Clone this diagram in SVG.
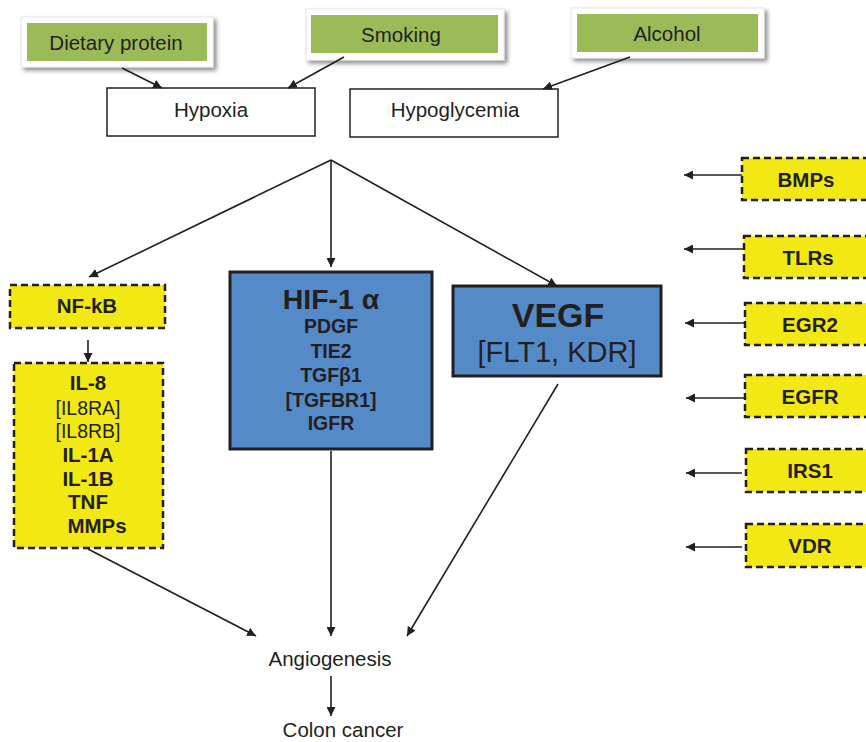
<svg xmlns="http://www.w3.org/2000/svg" width="866" height="742" viewBox="0 0 866 742">
<style>
text{font-family:"Liberation Sans",Arial,sans-serif;fill:#231f20;text-anchor:middle}
.frame{fill:#fff;stroke:#e6e6e6;stroke-width:1}
.green{fill:#9bbb59}
.plain{fill:#fff;stroke:#231f20;stroke-width:1.5}
.dash{fill:#f2e914;stroke:#231f20;stroke-width:2.5;stroke-dasharray:7,4}
.blue{fill:#558ac8;stroke:#231f20;stroke-width:3}
.ln{stroke:#231f20;stroke-width:1.6;fill:none;marker-end:url(#ah)}
.g{font-size:20.5px}
.t{font-size:20.5px}
.b{font-weight:bold}
.y{font-size:20.5px;font-weight:bold}
</style>
<defs>
<marker id="ah" viewBox="0 0 10 10" refX="10" refY="5" markerWidth="9" markerHeight="9" markerUnits="userSpaceOnUse" orient="auto">
<path d="M0,0 L10,5 L0,10 z" fill="#231f20"/>
</marker>
<filter id="sh" x="-10%" y="-20%" width="130%" height="160%">
<feDropShadow dx="3" dy="3" stdDeviation="2" flood-color="#000" flood-opacity="0.45"/>
</filter>
</defs>
<rect width="866" height="742" fill="#fff"/>
<g id="dietary"><rect class="frame" x="21" y="17" width="192" height="50" filter="url(#sh)"/><rect class="green" x="27" y="23" width="180" height="38"/><text class="g" x="116" y="50">Dietary protein</text></g>
<g id="smoking"><rect class="frame" x="306" y="9" width="198" height="51" filter="url(#sh)"/><rect class="green" x="311" y="15" width="187" height="38"/><text class="g" x="401" y="42">Smoking</text></g>
<g id="alcohol"><rect class="frame" x="571" y="8" width="193" height="50" filter="url(#sh)"/><rect class="green" x="577" y="14" width="181" height="38"/><text class="g" x="667" y="41">Alcohol</text></g>
<g id="hypoxia"><rect class="plain" x="107" y="88" width="208" height="48"/><text class="t" x="211" y="117">Hypoxia</text></g>
<g id="hypoglycemia"><rect class="plain" x="350" y="89" width="208" height="48"/><text class="t" x="455" y="117">Hypoglycemia</text></g>
<g id="nfkb"><rect class="dash" x="10" y="285" width="155" height="43"/><text class="y" x="87" y="313">NF-kB</text></g>
<g id="il"><rect class="dash" x="14" y="363" width="149" height="185"/>
<text x="88" y="390" class="y">IL-8</text>
<text x="88" y="415" font-size="19.5">[IL8RA]</text>
<text x="88" y="438" font-size="19.5">[IL8RB]</text>
<text x="88" y="462" class="y">IL-1A</text>
<text x="88" y="486" class="y">IL-1B</text>
<text x="88" y="509" class="y">TNF</text>
<text x="97" y="533" class="y">MMPs</text></g>
<g id="hif"><rect class="blue" x="230" y="272" width="202" height="177"/>
<text x="331" y="309" font-size="28.5" class="b">HIF-1 α</text>
<text x="331" y="333" font-size="19.5" class="b">PDGF</text>
<text x="331" y="358" font-size="19.5" class="b">TIE2</text>
<text x="331" y="382" font-size="19.5" class="b">TGFβ1</text>
<text x="331" y="407" font-size="19.5" class="b">[TGFBR1]</text>
<text x="331" y="430" font-size="19.5" class="b">IGFR</text></g>
<g id="vegf"><rect class="blue" x="453" y="286" width="208" height="90"/>
<text x="558" y="327" font-size="34" class="b">VEGF</text>
<text x="557" y="362" font-size="29">[FLT1, KDR]</text></g>
<g id="angiogenesis"><text class="t" x="330" y="666">Angiogenesis</text></g>
<g id="colon"><text class="t" x="343" y="737">Colon cancer</text></g>
<g id="bmps"><rect class="dash" x="742" y="158" width="130" height="42"/><text class="y" x="806" y="187">BMPs</text></g>
<g id="tlrs"><rect class="dash" x="744" y="236" width="130" height="42"/><text class="y" x="808" y="265">TLRs</text></g>
<g id="egr2"><rect class="dash" x="745" y="303" width="130" height="42"/><text class="y" x="810" y="332">EGR2</text></g>
<g id="egfr"><rect class="dash" x="745" y="375" width="130" height="42"/><text class="y" x="810" y="404">EGFR</text></g>
<g id="irs1"><rect class="dash" x="746" y="449" width="130" height="43"/><text class="y" x="810" y="478">IRS1</text></g>
<g id="vdr"><rect class="dash" x="746" y="524" width="130" height="43"/><text class="y" x="810" y="553">VDR</text></g>
<g id="connectors">
<line class="ln" x1="122" y1="68" x2="162" y2="88"/>
<line class="ln" x1="344" y1="57" x2="288" y2="88"/>
<line class="ln" x1="630" y1="57" x2="543" y2="89"/>
<line class="ln" x1="331" y1="160" x2="89" y2="277"/>
<line class="ln" x1="331" y1="160" x2="331" y2="267"/>
<line class="ln" x1="331" y1="160" x2="557" y2="286"/>
<line class="ln" x1="88" y1="340" x2="88" y2="362"/>
<line class="ln" x1="88" y1="549" x2="256" y2="636"/>
<line class="ln" x1="331" y1="451" x2="331" y2="636"/>
<line class="ln" x1="558" y1="384" x2="407" y2="636"/>
<line class="ln" x1="331" y1="676" x2="331" y2="716"/>
<line class="ln" x1="742" y1="175" x2="684" y2="175"/>
<line class="ln" x1="744" y1="249" x2="684" y2="249"/>
<line class="ln" x1="745" y1="323" x2="685" y2="323"/>
<line class="ln" x1="745" y1="398" x2="686" y2="398"/>
<line class="ln" x1="742" y1="473" x2="686" y2="473"/>
<line class="ln" x1="742" y1="547" x2="686" y2="547"/>
</g>
</svg>
